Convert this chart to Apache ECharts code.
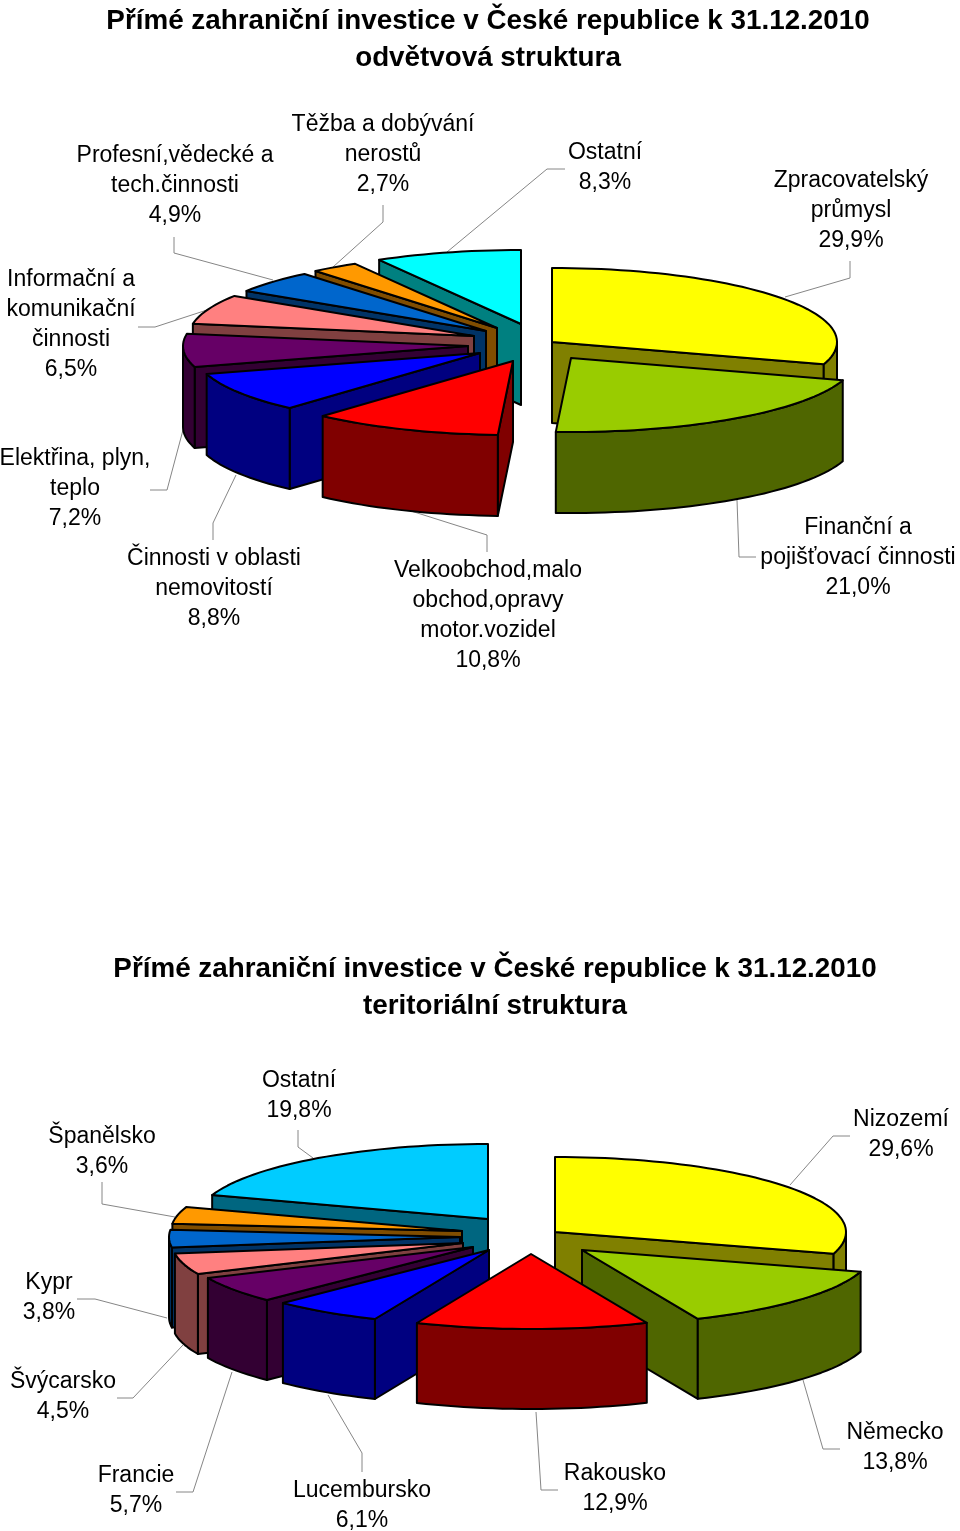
<!DOCTYPE html>
<html>
<head>
<meta charset="utf-8">
<style>html,body{margin:0;padding:0;background:#fff}#c{width:960px;height:1531px}</style>
<script src="https://cdn.jsdelivr.net/npm/echarts@6/dist/echarts.min.js"></script>
</head>
<body>
<div id="c"></div>
<script>
// ---------- data ----------
const sectorNames = ['Zpracovatelský\nprůmysl','Finanční a\npojišťovací činnosti','Velkoobchod,malo\nobchod,opravy\nmotor.vozidel','Činnosti v oblasti\nnemovitostí','Elektřina, plyn,\nteplo','Informační a\nkomunikační\nčinnosti','Profesní,vědecké a\ntech.činnosti','Těžba a dobývání\nnerostů','Ostatní'];
const sectorValues = [29.9,21.0,10.8,8.8,7.2,6.5,4.9,2.7,8.3];
const countryNames = ['Nizozemí','Německo','Rakousko','Lucembursko','Francie','Švýcarsko','Kypr','Španělsko','Ostatní'];
const countryValues = [29.6,13.8,12.9,6.1,5.7,4.5,3.8,3.6,19.8];
const titleTop = 'Přímé zahraniční investice v České republice k 31.12.2010\nodvětvová struktura';
const titleBottom = 'Přímé zahraniční investice v České republice k 31.12.2010\nteritoriální struktura';

// ---------- style ----------
const faceColors = ['#FFFF00','#99CC00','#FF0000','#0000FF','#660066','#FF8080','#0066CC','#FF9900'];
const wallColors = ['#808000','#4F6600','#800000','#000080','#330033','#804040','#003366','#804D00'];
const lastFaceTop = '#00FFFF', lastWallTop = '#008080';
const lastFaceBottom = '#00CCFF', lastWallBottom = '#006680';
const FONT = '"Liberation Sans", Arial, sans-serif';
const LABEL_SIZE = 23, LINE_H = 30;

// ---------- layout ----------
const layoutTop = {
  rx:285, ry:74, depth:81, center:[510,345],
  explode:[[42,-3],[61,13],[3,16],[-30,8],[-42,1],[-36,-9],[-24,-14],[-13,-17],[11,-21]],
  paint:[8,7,6,5,4,3,0,1,2],
  labelAt:[[851,181],[858,528],[488,571],[214,559],[75,459],[71,280],[175,156],[383,125],[605,153]],
  leader:[
    [[850,261],[850,278],[785,297]],
    [[756,557],[739,557],[737,500]],
    [[487,552],[487,535],[411,511]],
    [[213,540],[213,523],[236,475]],
    [[150,490],[167,490],[183,430]],
    [[138,327],[155,327],[207,310]],
    [[174,237],[174,253],[273,280]],
    [[383,205],[383,222],[333,267]],
    [[565,169],[547,169],[447,252]]
  ]
};
const layoutBottom = {
  rx:291, ry:75, depth:80, center:[510,1240],
  explode:[[45,-8],[72,10],[21,14],[-21,10],[-37,7],[-47,3],[-50,-3],[-48,-9],[-22,-21]],
  paint:[8,7,6,5,4,3,0,1,2],
  labelAt:[[901,1120],[895,1433],[615,1474],[362,1491],[136,1476],[63,1382],[49,1283],[102,1137],[299,1081]],
  leader:[
    [[850,1136],[833,1136],[790,1185]],
    [[840,1449],[823,1449],[803,1380]],
    [[558,1490],[541,1490],[536,1412]],
    [[362,1472],[362,1453],[328,1395]],
    [[176,1492],[193,1492],[232,1372]],
    [[117,1398],[133,1398],[183,1345]],
    [[77,1299],[95,1299],[167,1318]],
    [[102,1182],[102,1204],[175,1217]],
    [[298,1130],[298,1147],[313,1158]]
  ]
};

function pct(v){ return v.toFixed(1).replace('.',',') + '%'; }

function makeSeries(names, values, L, faces, walls){
  const total = values.reduce((a,b)=>a+b,0);
  const rank = {};
  L.paint.forEach((idx,r)=>{ rank[idx]=r; });
  return {
    type:'custom',
    coordinateSystem:'none',
    silent:true,
    animation:false,
    data:values,
    renderItem:function(params, api){
      const i = params.dataIndex;
      const v = api.value(0);
      let before = 0;
      for(let k=0;k<i;k++) before += values[k];
      const a0 = before/total*2*Math.PI, a1 = (before+v)/total*2*Math.PI;
      const ox = L.center[0]+L.explode[i][0], oy = L.center[1]+L.explode[i][1];
      const rim = a => [ox+L.rx*Math.sin(a), oy-L.ry*Math.cos(a)];
      const down = p => [p[0],p[1]+L.depth];
      const arc = (s,e)=>{
        const n = Math.max(2,Math.ceil((e-s)/(Math.PI/90)));
        const out=[];
        for(let k=0;k<=n;k++) out.push(rim(s+(e-s)*k/n));
        return out;
      };
      const apex=[ox,oy];
      const base = rank[i]*10+10;
      const stroke = {stroke:'#000',lineWidth:2,lineJoin:'round'};
      const wallStyle = Object.assign({fill:walls[i]},stroke);
      const kids = [];
      // leader
      kids.push({type:'polyline',z2:1,shape:{points:L.leader[i]},style:{stroke:'#868686',lineWidth:1,fill:null}});
      // radial walls: only the faces turned to the viewer
      const addRadial = function(a,z){
        const p=rim(a);
        kids.push({type:'polygon',z2:base+z,shape:{points:[apex,p,down(p),down(apex)]},style:wallStyle});
      };
      if(Math.sin(a0) < -1e-6) addRadial(a0,0);
      if(Math.sin(a1) >  1e-6) addRadial(a1,1);
      // outer wall (front half of the rim)
      const fs=Math.max(a0,Math.PI/2), fe=Math.min(a1,Math.PI*1.5);
      if(fe>fs){
        const top=arc(fs,fe);
        kids.push({type:'polygon',z2:base+3,shape:{points:top.concat(top.slice().reverse().map(down))},style:wallStyle});
      }
      // top face
      kids.push({type:'polygon',z2:base+4,shape:{points:[apex].concat(arc(a0,a1))},style:Object.assign({fill:faces[i]},stroke)});
      // label
      kids.push({type:'text',z2:500,style:{
        text:names[i]+'\n'+pct(v),
        x:L.labelAt[i][0], y:L.labelAt[i][1]-LINE_H/2,
        align:'center', verticalAlign:'top',
        fontFamily:FONT, fontSize:LABEL_SIZE, lineHeight:LINE_H, fill:'#000'
      }});
      return {type:'group',children:kids};
    }
  };
}

const chart = echarts.init(document.getElementById('c'),null,{renderer:'canvas',width:960,height:1531});
chart.setOption({
  backgroundColor:'#fff',
  animation:false,
  title:[
    {text:titleTop,left:488,top:3,textAlign:'center',padding:0,
     textStyle:{fontFamily:FONT,fontWeight:'bold',fontSize:27.8,lineHeight:37,color:'#000'}},
    {text:titleBottom,left:495,top:951,textAlign:'center',padding:0,
     textStyle:{fontFamily:FONT,fontWeight:'bold',fontSize:27.8,lineHeight:37,color:'#000'}}
  ],
  series:[
    makeSeries(sectorNames,sectorValues,layoutTop,faceColors.concat([lastFaceTop]),wallColors.concat([lastWallTop])),
    makeSeries(countryNames,countryValues,layoutBottom,faceColors.concat([lastFaceBottom]),wallColors.concat([lastWallBottom]))
  ]
});
</script>
</body>
</html>
